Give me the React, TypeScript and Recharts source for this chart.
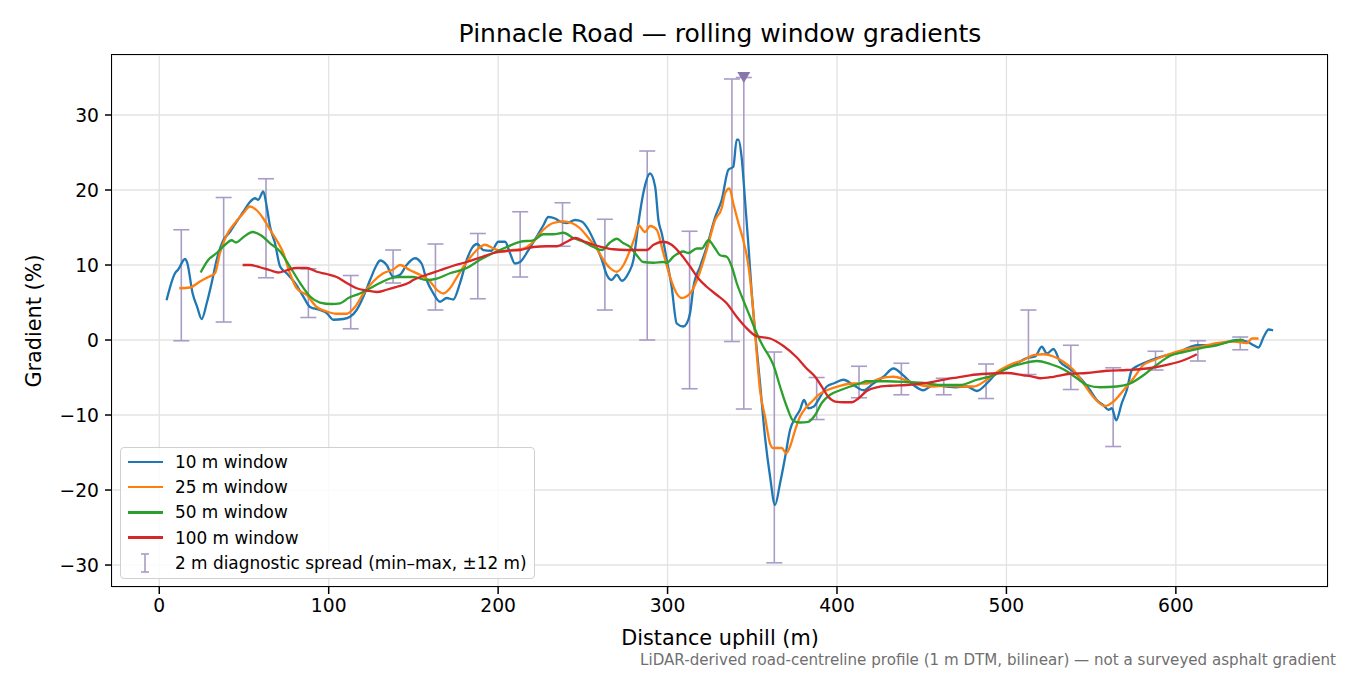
import {
  ComposedChart,
  Line,
  Scatter,
  ErrorBar,
  XAxis,
  YAxis,
  CartesianGrid,
} from "recharts";

// distance (m), gradient (%)
const win10: [number, number][] = [
  [4.3, 5.3], [9.3, 8.9], [11.2, 9.4], [15.2, 10.8], [16.5, 10.3], [19.7, 6.2], [22.4, 4.4], [25.0, 2.8],
  [28.0, 4.9], [30.9, 7.6], [33.9, 10.7], [37.8, 13.3], [41.7, 14.4], [45.7, 15.8], [49.6, 17.1], [53.5, 18.4],
  [56.5, 18.9], [58.4, 18.7], [61.4, 19.8], [63.4, 17.8], [65.4, 15.1], [68.3, 12.9], [71.3, 9.8], [75.2, 8.9],
  [80.1, 7.6], [85.0, 5.8], [89.0, 4.4], [94.8, 4.0], [98.8, 3.6], [102.7, 2.7], [108.6, 2.8], [112.6, 3.1],
  [116.5, 4.0], [120.5, 5.8], [124.4, 8.0], [128.3, 10.0], [130.3, 10.6], [134.2, 10.0], [138.1, 8.4], [142.1, 8.7],
  [146.0, 10.0], [150.9, 10.9], [154.8, 10.2], [157.8, 8.0], [161.8, 6.2], [165.7, 5.1], [169.6, 5.6], [173.5, 5.4],
  [177.5, 7.6], [181.5, 10.7], [184.4, 12.2], [187.7, 12.8], [191.2, 12.0], [196.1, 11.9], [200.1, 13.1], [204.1, 13.1],
  [207.0, 11.6], [209.9, 10.2], [212.9, 10.4], [217.9, 12.0], [222.8, 13.8], [226.7, 15.3], [229.6, 16.4], [233.6, 16.2],
  [236.6, 15.8], [240.5, 15.6], [245.4, 16.0], [249.3, 15.8], [253.3, 14.7], [257.2, 12.9], [261.2, 10.7], [264.1, 8.7],
  [267.0, 8.0], [270.0, 8.7], [273.0, 7.9], [276.9, 8.9], [279.9, 10.7], [282.8, 15.6], [285.7, 19.6], [289.7, 22.2],
  [292.7, 20.4], [294.6, 16.0], [296.6, 14.2], [299.5, 10.7], [302.4, 7.1], [305.4, 2.2], [309.3, 1.8], [311.3, 2.2],
  [313.3, 3.6], [315.3, 7.1], [319.2, 9.8], [323.1, 12.4], [328.1, 16.4], [332.0, 18.7], [335.9, 22.7], [338.8, 23.1],
  [340.8, 26.7], [341.8, 26.7], [343.7, 24.4], [345.7, 18.7], [347.8, 12.4], [349.7, 6.2], [351.7, 1.0], [354.6, -5.8],
  [357.5, -12.9], [360.5, -18.2], [363.4, -22.0], [366.4, -19.1], [369.4, -15.6], [372.3, -12.0], [375.3, -10.4], [378.2, -9.3],
  [380.5, -8.0], [383.1, -9.1], [386.1, -8.9], [390.0, -7.6], [394.0, -6.2], [397.9, -5.8], [403.8, -5.3], [409.7, -6.0],
  [415.6, -6.7], [421.4, -5.8], [427.4, -4.9], [433.3, -3.8], [439.1, -4.7], [445.1, -6.0], [451.0, -6.7], [456.9, -6.0],
  [464.8, -6.2], [470.0, -6.3], [476.6, -6.2], [482.6, -6.8], [488.4, -5.8], [494.3, -4.4], [500.3, -3.8], [506.1, -3.1],
  [512.0, -2.4], [516.9, -2.2], [520.9, -0.9], [523.9, -1.8], [527.8, -1.2], [531.7, -2.9], [535.6, -3.6], [539.6, -4.2],
  [544.5, -5.3], [549.4, -6.7], [553.3, -8.0], [557.3, -8.7], [560.3, -9.3], [562.2, -9.1], [564.8, -10.7], [568.1, -8.4],
  [571.0, -6.7], [574.0, -4.0], [577.0, -3.5], [582.9, -2.9], [588.8, -2.4], [594.7, -2.0], [600.6, -1.8], [606.5, -1.1],
  [612.4, -0.7], [620.4, -0.7], [628.2, -0.4], [636.1, 0.0], [642.0, -0.2], [645.9, -0.7], [648.8, -1.0], [651.8, 0.4],
  [654.8, 1.4], [657.4, 1.3],
];

const win25: [number, number][] = [
  [11.8, 6.9], [18.1, 7.0], [24.0, 7.8], [29.0, 8.4], [32.9, 8.9], [35.8, 11.6], [39.8, 14.0], [44.7, 15.6],
  [49.6, 16.9], [53.5, 17.8], [57.5, 17.3], [61.4, 16.2], [65.4, 14.7], [69.3, 13.3], [73.2, 11.6], [77.1, 8.9],
  [81.1, 6.9], [87.0, 6.0], [92.9, 4.4], [98.8, 3.8], [104.7, 3.5], [110.6, 3.5], [115.5, 4.4], [120.5, 6.2],
  [126.3, 7.8], [132.2, 8.9], [138.1, 9.4], [142.1, 10.0], [148.0, 9.3], [153.9, 8.7], [159.8, 7.8], [163.8, 6.7],
  [167.7, 6.2], [171.6, 6.9], [176.5, 8.7], [181.5, 10.4], [187.4, 12.0], [192.2, 12.7], [197.2, 12.2], [203.1, 11.8],
  [209.0, 12.0], [214.9, 12.2], [220.8, 13.1], [226.7, 14.7], [232.5, 15.6], [238.5, 15.8], [243.4, 15.6], [248.3, 14.9],
  [253.3, 13.6], [258.2, 12.2], [262.1, 10.7], [266.0, 9.6], [270.0, 9.1], [274.0, 10.0], [277.9, 12.0], [280.8, 13.8],
  [282.8, 15.3], [286.7, 14.4], [289.7, 15.2], [293.6, 14.7], [297.5, 11.6], [301.5, 8.4], [305.4, 6.2], [308.3, 5.6],
  [313.3, 6.2], [318.7, 8.8], [323.1, 12.0], [328.1, 16.0], [332.0, 17.6], [334.0, 19.6], [336.5, 20.2], [338.8, 18.2],
  [341.8, 15.6], [344.7, 13.3], [347.8, 9.8], [350.7, 3.6], [352.5, -1.5], [354.6, -6.7], [357.5, -10.2], [360.5, -13.8],
  [362.4, -14.4], [367.4, -14.4], [370.0, -15.1], [372.3, -14.2], [375.3, -12.0], [378.2, -10.2], [382.1, -8.9], [386.1, -8.0],
  [389.1, -7.3], [394.0, -6.7], [401.8, -6.1], [409.7, -5.8], [417.5, -5.8], [425.5, -5.1], [433.3, -4.9], [441.2, -5.4],
  [449.1, -6.0], [456.9, -6.2], [464.8, -6.1], [472.6, -6.2], [480.6, -6.2], [488.4, -5.3], [496.2, -4.0], [504.1, -3.1],
  [510.0, -2.7], [515.9, -2.0], [521.9, -1.9], [527.8, -2.2], [533.6, -2.9], [539.6, -4.0], [545.5, -5.8], [551.3, -7.6],
  [558.3, -8.8], [563.2, -8.2], [569.1, -6.7], [575.0, -5.1], [580.9, -3.3], [586.8, -2.7], [594.7, -2.0], [604.5, -1.3],
  [614.3, -0.9], [624.2, -0.4], [634.1, -0.2], [642.0, -0.4], [644.9, 0.2], [648.8, 0.2],
];

const win50: [number, number][] = [
  [24.4, 9.0], [29.0, 10.7], [33.9, 11.6], [38.8, 12.7], [42.7, 13.3], [45.3, 13.0], [49.6, 13.7], [55.1, 14.4],
  [60.4, 13.9], [65.4, 12.9], [71.3, 11.8], [77.1, 9.8], [83.1, 7.6], [89.0, 5.8], [94.8, 5.0], [101.8, 4.8],
  [106.7, 4.9], [111.6, 5.6], [118.4, 6.2], [124.4, 6.9], [130.3, 7.6], [136.1, 8.2], [142.1, 8.4], [149.9, 8.4],
  [157.8, 8.0], [163.8, 8.2], [171.6, 8.9], [181.5, 9.6], [189.3, 10.7], [197.2, 11.6], [205.1, 12.4], [212.9, 13.1],
  [220.8, 13.3], [226.7, 14.1], [232.5, 14.1], [238.5, 14.3], [244.4, 13.6], [250.3, 13.1], [256.2, 12.4], [261.2, 12.0],
  [266.0, 13.0], [270.0, 13.5], [274.0, 12.9], [277.9, 12.4], [281.8, 11.3], [285.7, 10.4], [291.7, 10.3], [297.5, 10.4],
  [299.5, 10.3], [303.4, 11.1], [309.3, 11.8], [312.3, 11.6], [317.2, 12.2], [320.2, 12.2], [324.1, 13.3], [328.1, 12.2],
  [331.0, 11.3], [334.9, 11.1], [337.9, 9.8], [340.8, 7.6], [344.7, 5.3], [348.7, 3.1], [352.6, 0.9], [356.5, -0.9],
  [360.5, -2.4], [362.4, -3.3], [366.4, -6.2], [370.4, -8.9], [374.3, -10.8], [378.2, -11.0], [383.1, -10.9], [387.1, -10.0],
  [391.0, -8.4], [396.0, -7.3], [401.8, -6.7], [407.8, -6.2], [413.6, -5.8], [417.5, -5.5], [429.4, -5.5], [441.2, -5.6],
  [449.1, -5.7], [462.8, -6.0], [472.6, -6.0], [482.6, -5.3], [492.4, -4.7], [502.2, -3.6], [510.0, -3.1], [518.0, -2.8],
  [525.8, -3.2], [533.6, -3.9], [541.6, -5.1], [547.5, -6.0], [555.3, -6.3], [565.2, -6.2], [573.0, -5.8], [580.9, -4.7],
  [588.8, -3.3], [596.7, -2.1], [604.5, -1.6], [614.3, -1.1], [624.2, -0.7], [634.1, -0.1], [640.0, 0.0],
];

const win100: [number, number][] = [
  [49.2, 10.0], [53.5, 10.0], [59.4, 9.7], [65.4, 9.3], [70.3, 9.0], [75.2, 9.3], [81.1, 9.6], [87.0, 9.6],
  [92.9, 9.1], [98.8, 8.8], [104.7, 8.4], [110.6, 7.6], [116.5, 6.9], [122.5, 6.6], [128.3, 6.4], [134.2, 6.7],
  [140.2, 7.1], [147.0, 7.6], [149.9, 8.0], [157.8, 8.7], [165.7, 9.3], [173.5, 9.9], [181.5, 10.4], [189.3, 11.0],
  [197.2, 11.6], [205.1, 11.9], [212.9, 12.0], [220.8, 12.4], [228.7, 12.5], [234.6, 12.5], [240.5, 13.1], [245.4, 13.6],
  [251.3, 13.1], [256.2, 12.7], [261.2, 12.4], [268.0, 12.1], [275.9, 12.0], [283.7, 12.0], [287.7, 12.0], [291.7, 12.7],
  [297.5, 13.1], [302.4, 12.7], [307.3, 11.6], [313.3, 9.8], [318.2, 8.2], [323.1, 7.1], [329.1, 6.0], [334.9, 4.9],
  [340.8, 3.1], [345.7, 1.8], [352.6, 0.5], [360.5, 0.2], [368.4, -0.8], [376.2, -2.3], [382.1, -3.8], [387.1, -4.9],
  [391.0, -6.2], [395.0, -7.6], [398.9, -8.2], [403.8, -8.3], [408.7, -8.3], [412.6, -7.8], [417.5, -6.8], [423.5, -6.3],
  [431.3, -6.1], [441.2, -6.0], [453.0, -5.7], [464.8, -5.2], [470.7, -5.0], [478.5, -4.7], [488.4, -4.5], [500.3, -4.4],
  [510.0, -4.7], [515.9, -4.9], [519.9, -5.1], [527.8, -4.9], [537.7, -4.5], [547.5, -4.4], [559.3, -4.1], [571.0, -4.0],
  [582.9, -3.8], [594.7, -3.3], [604.5, -2.7], [612.4, -1.9],
];

// 2 m diagnostic spread, min/max within ±12 m
const spreadX = [13, 38, 63, 88, 113, 138, 163, 188, 213, 238, 263, 288, 313, 338, 363, 388, 413, 438, 463, 488, 513, 538, 563, 588, 613, 638];
const spreadLo = [-0.1, 2.4, 8.3, 3.0, 1.5, 7.6, 4.0, 5.5, 8.4, 12.5, 4.0, 0.0, -6.5, -0.2, -29.7, -10.6, -7.7, -7.3, -7.3, -7.8, -4.6, -6.6, -14.2, -4.0, -2.8, -1.3];
const spreadHi = [14.7, 19.0, 21.5, 9.5, 8.6, 12.0, 12.8, 14.2, 17.1, 18.3, 16.1, 25.2, 14.5, 34.8, -1.6, -5.0, -3.5, -3.1, -5.1, -3.2, 4.0, -0.7, -3.7, -1.5, -0.1, 0.4];

// steepest point, max is off the shown range
const peakX = 345;
const peakLo = -9.2;
const peakHi = 35;

const xTicks = [0, 100, 200, 300, 400, 500, 600];
const yTicks = [-30, -20, -10, 0, 10, 20, 30];

const colors = ["#1f77b4", "#ff7f0e", "#2ca02c", "#d62728"];
const spreadColor = "#a99cc6";
const font = "DejaVu Sans, sans-serif";

const toPts = (arr: [number, number][]) => arr.map(([x, y]) => ({ x, y }));

const spreadData = [
  ...spreadX.map((x, i) => ({
    x,
    y: (spreadLo[i] + spreadHi[i]) / 2,
    err: (spreadHi[i] - spreadLo[i]) / 2,
  })),
  { x: peakX, y: (peakLo + peakHi) / 2, err: (peakHi - peakLo) / 2 },
];

const fmt = (v: number) => (v < 0 ? "\u2212" + Math.abs(v) : String(v));

const legendItems = [
  { label: "10 m window", color: colors[0] },
  { label: "25 m window", color: colors[1] },
  { label: "50 m window", color: colors[2] },
  { label: "100 m window", color: colors[3] },
];

export default function App() {
  return (
    <div style={{ position: "absolute", left: 0, top: 0, width: 1350, height: 675, background: "#fff", fontFamily: font }}>
      <ComposedChart
        width={1350}
        height={675}
        margin={{ top: 55, right: 22, bottom: 48, left: 42 }}
      >
        <CartesianGrid stroke="#e3e3e3" strokeWidth={1.3} />
        <XAxis
          dataKey="x"
          type="number"
          domain={[-27.9, 689.8]}
          allowDataOverflow
          ticks={xTicks}
          tickFormatter={fmt}
          height={40}
          tickSize={7}
          tickMargin={5}
          axisLine={false}
          tickLine={{ stroke: "#000", strokeWidth: 1.5 }}
          tick={{ fill: "#000", fontSize: 18.7, fontFamily: font }}
        />
        <YAxis
          type="number"
          domain={[-32.93, 38]}
          allowDataOverflow
          ticks={yTicks}
          tickFormatter={fmt}
          width={70}
          tickSize={7}
          tickMargin={6}
          axisLine={false}
          tickLine={{ stroke: "#000", strokeWidth: 1.5 }}
          tick={{ fill: "#000", fontSize: 18.7, fontFamily: font }}
        />
        <Scatter data={spreadData} dataKey="y" isAnimationActive={false} shape={() => <g />}>
          <ErrorBar dataKey="err" direction="y" width={8} stroke={spreadColor} strokeWidth={1.6} isAnimationActive={false} />
        </Scatter>
        <Scatter
          data={[{ x: peakX, y: peakHi }]}
          dataKey="y"
          isAnimationActive={false}
          shape={(p: any) => (
            <path
              d={`M${p.cx - 6.5},${p.cy - 5.5}L${p.cx + 6.5},${p.cy - 5.5}L${p.cx},${p.cy + 5.5}Z`}
              fill="#8877ad"
            />
          )}
        />
        {[win10, win25, win50, win100].map((s, i) => (
          <Line
            key={i}
            data={toPts(s)}
            dataKey="y"
            type="monotone"
            stroke={colors[i]}
            strokeWidth={2.3}
            dot={false}
            activeDot={false}
            isAnimationActive={false}
          />
        ))}
      </ComposedChart>

      {/* axes frame */}
      <div style={{ position: "absolute", left: 111, top: 54, width: 1217, height: 533, border: "1.5px solid #000", boxSizing: "border-box", pointerEvents: "none" }} />

      <div style={{ position: "absolute", left: 0, width: 1440, top: 19, textAlign: "center", fontSize: 25, color: "#000", whiteSpace: "nowrap" }}>
        Pinnacle Road — rolling window gradients
      </div>
      <div style={{ position: "absolute", left: 0, width: 1440, top: 626, textAlign: "center", fontSize: 20.8, color: "#000", whiteSpace: "nowrap" }}>
        Distance uphill (m)
      </div>
      <div style={{ position: "absolute", left: 33.5, top: 321, transform: "translate(-50%, -50%) rotate(-90deg)", fontSize: 20.8, color: "#000", whiteSpace: "nowrap" }}>
        Gradient (%)
      </div>
      <div style={{ position: "absolute", right: 14, top: 651, fontSize: 15.1, color: "#6f6f6f", whiteSpace: "nowrap" }}>
        LiDAR-derived road-centreline profile (1 m DTM, bilinear) — not a surveyed asphalt gradient
      </div>

      {/* legend */}
      <div style={{ position: "absolute", left: 120, top: 447, width: 415, height: 132, boxSizing: "border-box", border: "1.3px solid #d0d0d0", borderRadius: 4, background: "rgba(255,255,255,0.85)", fontSize: 16.9, color: "#000" }}>
        {legendItems.map((it, i) => (
          <div key={i} style={{ position: "absolute", left: 0, top: 4 + i * 25.2, height: 20, display: "flex", alignItems: "center", whiteSpace: "nowrap" }}>
            <div style={{ marginLeft: 7, width: 35, height: 2.3, background: it.color }} />
            <span style={{ marginLeft: 12 }}>{it.label}</span>
          </div>
        ))}
        <div style={{ position: "absolute", left: 0, top: 4 + 4 * 25.2, height: 20, display: "flex", alignItems: "center", whiteSpace: "nowrap" }}>
          <svg width={42} height={22} style={{ marginLeft: 7 }}>
            <line x1={17} x2={17} y1={2} y2={20} stroke={spreadColor} strokeWidth={1.6} />
            <line x1={13} x2={21} y1={2} y2={2} stroke={spreadColor} strokeWidth={1.6} />
            <line x1={13} x2={21} y1={20} y2={20} stroke={spreadColor} strokeWidth={1.6} />
          </svg>
          <span style={{ marginLeft: 5 }}>2 m diagnostic spread (min–max, ±12 m)</span>
        </div>
      </div>
    </div>
  );
}
